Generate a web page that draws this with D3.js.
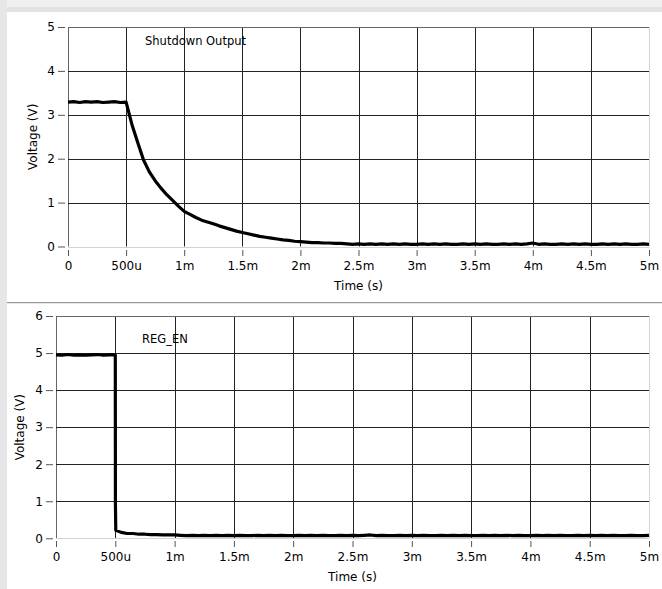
<!DOCTYPE html>
<html>
<head>
<meta charset="utf-8">
<script src="https://cdn.jsdelivr.net/npm/d3@7"></script>
<style>
  body { margin: 0; background: #fff; }
  svg { display: block; }
  text { font-family: "DejaVu Sans", sans-serif; font-size: 12px; fill: #000; }
</style>
</head>
<body>
<svg id="chart" width="662" height="589"></svg>
<script>
// time in ms, sampled every 50us
var timeTicks = [0, 0.5, 1, 1.5, 2, 2.5, 3, 3.5, 4, 4.5, 5];
var timeLabels = ["0", "500u", "1m", "1.5m", "2m", "2.5m", "3m", "3.5m", "4m", "4.5m", "5m"];
var shutdownTicks = [0, 1, 2, 3, 4, 5];
var regTicks = [0, 1, 2, 3, 4, 5, 6];

var sampleTimes = d3.range(0, 101).map(function(i) { return i * 0.05; });

var shutdownValues = [
  3.29, 3.30, 3.28, 3.30, 3.29, 3.30, 3.28, 3.29, 3.30, 3.28, 3.29,
  2.78, 2.37, 1.97, 1.70, 1.50, 1.33, 1.18, 1.05, 0.92, 0.80,
  0.73, 0.66, 0.60, 0.56, 0.52, 0.47, 0.43, 0.39, 0.35, 0.32,
  0.29, 0.26, 0.23, 0.21, 0.19, 0.17, 0.15, 0.14, 0.12, 0.11,
  0.10, 0.09, 0.09, 0.08, 0.08, 0.07, 0.07,
  0.06, 0.05, 0.06, 0.05, 0.06, 0.05, 0.06, 0.05, 0.06, 0.05,
  0.06, 0.05, 0.05, 0.06, 0.05, 0.06, 0.05, 0.06, 0.05, 0.05,
  0.06, 0.05, 0.06, 0.05, 0.06, 0.05, 0.05, 0.06, 0.05, 0.06,
  0.05, 0.06, 0.08, 0.05, 0.06, 0.05, 0.05, 0.06, 0.05, 0.06,
  0.05, 0.06, 0.05, 0.05, 0.06, 0.05, 0.06, 0.05, 0.06, 0.05,
  0.05, 0.06, 0.05
];

var regValues = [
  4.95, 4.94, 4.96, 4.94, 4.95, 4.94, 4.95, 4.96, 4.94, 4.95, 4.95,
  0.16, 0.13, 0.13, 0.11, 0.11, 0.10, 0.10, 0.09, 0.09, 0.09,
  0.08, 0.07, 0.08, 0.07, 0.08, 0.07, 0.08, 0.07, 0.08, 0.07,
  0.08, 0.07, 0.07, 0.08, 0.07, 0.08, 0.07, 0.08, 0.07, 0.07,
  0.08, 0.07, 0.08, 0.07, 0.08, 0.07, 0.07, 0.08, 0.07, 0.08,
  0.07, 0.08, 0.09, 0.07, 0.08, 0.07, 0.07, 0.08, 0.07, 0.08,
  0.07, 0.08, 0.07, 0.07, 0.08, 0.07, 0.08, 0.07, 0.08, 0.07,
  0.07, 0.08, 0.07, 0.08, 0.07, 0.08, 0.07, 0.08, 0.07, 0.07,
  0.08, 0.07, 0.08, 0.07, 0.08, 0.07, 0.07, 0.08, 0.07, 0.08,
  0.07, 0.08, 0.07, 0.08, 0.07, 0.07, 0.08, 0.07, 0.07, 0.08
];
// extra points on the falling edge of REG_EN
var regEdgeTimes = [0.501, 0.504];
var regEdgeValues = [0.95, 0.22];

function toPoints(t, v) {
  var pts = t.map(function(x, i) { return { t: x, v: v[i] }; });
  pts.sort(function(a, b) { return a.t - b.t; });
  return pts;
}

var svg = d3.select("#chart");

// window chrome
svg.append("rect").attr("x", 0).attr("y", 0).attr("width", 662).attr("height", 7).attr("fill", "#f0f0f0");
svg.append("rect").attr("x", 0).attr("y", 7).attr("width", 662).attr("height", 5).attr("fill", "#e3e3e3");
svg.append("rect").attr("x", 0).attr("y", 0).attr("width", 7).attr("height", 589).attr("fill", "#e6e6e6");
svg.append("line").attr("x1", 7).attr("x2", 662).attr("y1", 302.5).attr("y2", 302.5).attr("stroke", "#9a9a9a");
svg.append("line").attr("x1", 7).attr("x2", 662).attr("y1", 303.5).attr("y2", 303.5).attr("stroke", "#e4e4e4");

function drawPanel(cfg) {
  var x = d3.scaleLinear().domain([0, 5]).range([cfg.left, cfg.right]);
  var y = d3.scaleLinear().domain(cfg.yDomain).range([cfg.bottom, cfg.top]);
  var g = svg.append("g");

  g.append("rect")
    .attr("x", x(0)).attr("y", y(cfg.yDomain[1]))
    .attr("width", x(5) - x(0)).attr("height", y(0) - y(cfg.yDomain[1]))
    .attr("fill", "#fff");

  // grid
  g.selectAll(".vgrid").data(timeTicks).enter().append("line")
    .attr("x1", function(d) { return Math.round(x(d)) + 0.5; })
    .attr("x2", function(d) { return Math.round(x(d)) + 0.5; })
    .attr("y1", y(cfg.yDomain[1])).attr("y2", y(0))
    .attr("stroke", function(d) { return d === 5 ? "#d4d4d4" : (d === 0 ? "#666" : "#222"); })
    .attr("stroke-width", 1);
  g.selectAll(".hgrid").data(cfg.ticks).enter().append("line")
    .attr("y1", function(d) { return Math.round(y(d)) + 0.5; })
    .attr("y2", function(d) { return Math.round(y(d)) + 0.5; })
    .attr("x1", x(0)).attr("x2", x(5))
    .attr("stroke", function(d) { return d === 0 ? "#d4d4d4" : (d === cfg.yDomain[1] ? "#666" : "#222"); })
    .attr("stroke-width", 1);

  // axes
  var yAxis = d3.axisLeft(y).tickValues(cfg.ticks).tickSize(7).tickPadding(3).tickFormat(d3.format("d"));
  var ya = g.append("g").attr("transform", "translate(" + (Math.round(x(0)) - 3) + ",0)").call(yAxis);
  ya.select(".domain").remove();
  ya.selectAll(".tick line").attr("stroke", "#555");
  ya.selectAll("text").style("font-size", "12px").style("font-family", "DejaVu Sans");

  var xAxis = d3.axisBottom(x).tickValues(timeTicks).tickSize(6).tickPadding(5)
    .tickFormat(function(d, i) { return timeLabels[i]; });
  var xa = g.append("g").attr("transform", "translate(0," + (Math.round(y(0)) + 3) + ")").call(xAxis);
  xa.select(".domain").remove();
  xa.selectAll(".tick line").attr("stroke", "#555");
  xa.selectAll("text").style("font-size", "12px").style("font-family", "DejaVu Sans");

  // trace
  var line = d3.line()
    .x(function(d) { return x(d.t); })
    .y(function(d) { return y(d.v); });
  g.append("path")
    .datum(cfg.data)
    .attr("d", line)
    .attr("fill", "none")
    .attr("stroke", "#000")
    .attr("stroke-width", 3.2)
    .attr("stroke-linejoin", "round");

  g.append("text")
    .attr("x", cfg.labelX).attr("y", cfg.labelY)
    .style("font-size", "11.5px")
    .text(cfg.label);

  g.append("text")
    .attr("x", (x(0) + x(5)) / 2).attr("y", cfg.timeTitleY)
    .attr("text-anchor", "middle")
    .text("Time (s)");

  g.append("text")
    .attr("transform", "translate(" + cfg.voltX + "," + ((y(0) + y(cfg.yDomain[1])) / 2) + ") rotate(-90)")
    .attr("text-anchor", "middle")
    .text("Voltage (V)");
}

drawPanel({
  left: 68, right: 649, top: 27, bottom: 246.5,
  yDomain: [0, 5], ticks: shutdownTicks,
  data: toPoints(sampleTimes, shutdownValues),
  label: "Shutdown Output", labelX: 145, labelY: 45,
  timeTitleY: 290, voltX: 37
});

drawPanel({
  left: 56, right: 649, top: 316, bottom: 538.3,
  yDomain: [0, 6], ticks: regTicks,
  data: toPoints(sampleTimes.concat(regEdgeTimes), regValues.concat(regEdgeValues)),
  label: "REG_EN", labelX: 142, labelY: 343,
  timeTitleY: 581, voltX: 24
});
</script>
</body>
</html>
